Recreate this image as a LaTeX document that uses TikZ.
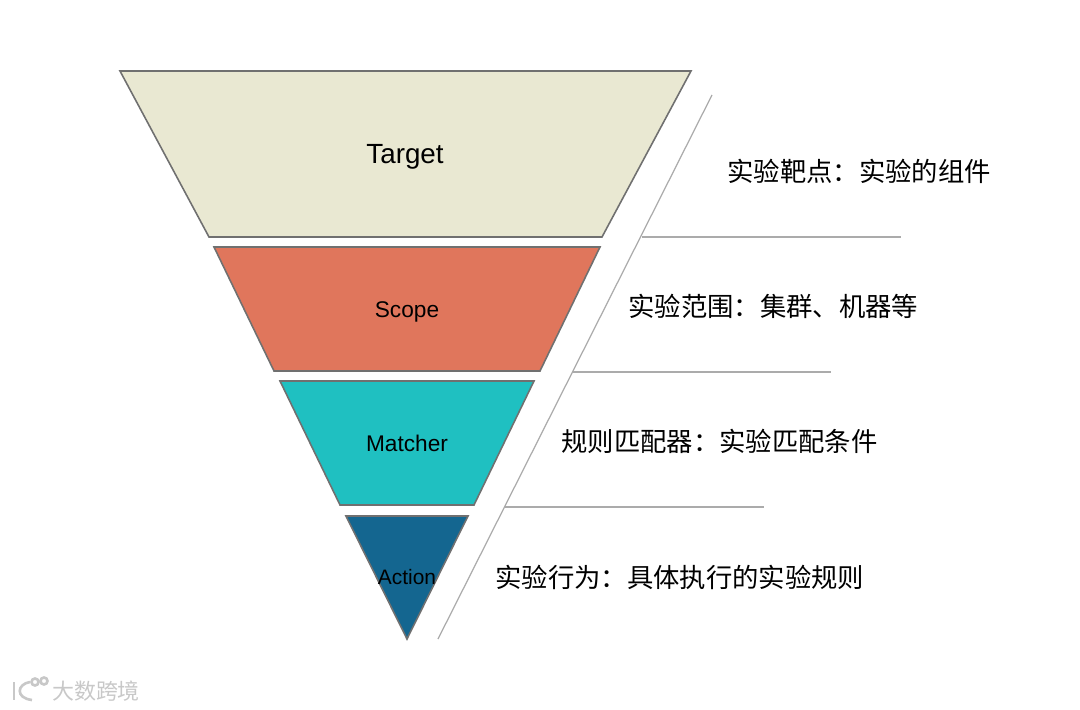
\documentclass[tikz,border=0pt]{standalone}
\usepackage{fontspec}
\setmainfont{Liberation Sans}
\newfontfamily\cjk{Noto Sans CJK SC}
\definecolor{targetfill}{HTML}{E9E8D2}
\definecolor{scopefill}{HTML}{E0765C}
\definecolor{matcherfill}{HTML}{1FC0C1}
\definecolor{actionfill}{HTML}{146690}
\definecolor{layeredge}{HTML}{707070}
\definecolor{guideline}{HTML}{ABABAB}
\definecolor{markgray}{HTML}{C8C8C8}
\tikzset{
  layer/.style={draw=layeredge,line width=0.9pt,line join=miter},
  guide/.style={draw=guideline,line width=0.7pt},
  layername/.style={inner sep=0pt,font=\fontsize{12.9}{15}\selectfont},
  caption/.style={anchor=west,inner sep=0pt,font=\cjk\fontsize{15}{18}\selectfont},
  logoline/.style={draw=markgray,line width=1.5pt}
}
\begin{document}
\begin{tikzpicture}[x=0.02cm,y=-0.02cm]
\useasboundingbox (0,0) rectangle (1080,710);
\draw[layer,fill=targetfill] (120,71)--(691,71)--(602,237)--(209,237)--cycle;
\draw[layer,fill=scopefill] (214,247)--(600,247)--(540,371)--(274,371)--cycle;
\draw[layer,fill=matcherfill] (280,381)--(534,381)--(474,505)--(340,505)--cycle;
\draw[layer,fill=actionfill] (346,516)--(468,516)--(407,639)--cycle;
\node[layername,font=\fontsize{15.8}{18}\selectfont] (target) at (405,157) {Target};
\node[layername] (scope) at (407,312) {Scope};
\node[layername] (matcher) at (407,443) {Matcher};
\node[layername,font=\fontsize{11.9}{14}\selectfont] (action) at (407,577) {Action};
\coordinate (slanttop) at (712,95);
\coordinate (slantbot) at (438,639);
\coordinate (rulea) at (642,237);
\coordinate (ruleaend) at (901,237);
\coordinate (ruleb) at (573,372);
\coordinate (rulebend) at (831,372);
\coordinate (rulec) at (505,507);
\coordinate (rulecend) at (764,507);
\draw[guide] (slanttop)--(slantbot);
\draw[guide] (rulea)--(ruleaend);
\draw[guide] (ruleb)--(rulebend);
\draw[guide] (rulec)--(rulecend);
\node[caption] (targettext) at (727,171) {实验靶点：实验的组件};
\node[caption] (scopetext) at (628,306) {实验范围：集群、机器等};
\node[caption] (matchertext) at (561,441) {规则匹配器：实验匹配条件};
\node[caption] (actiontext) at (495,577) {实验行为：具体执行的实验规则};
% watermark
\draw[logoline] (14,682)--(14,700);
\draw[logoline] (30,682) .. controls (17,684) and (15,698) .. (32,700);
\draw[logoline] (35,682) circle (3.5);
\draw[logoline] (44,681) circle (3.5);
\node[inner sep=0pt,text=markgray,font=\cjk\fontsize{12.5}{14}\selectfont] (logotext) at (96,691) {大数跨境};
\end{tikzpicture}
\end{document}
